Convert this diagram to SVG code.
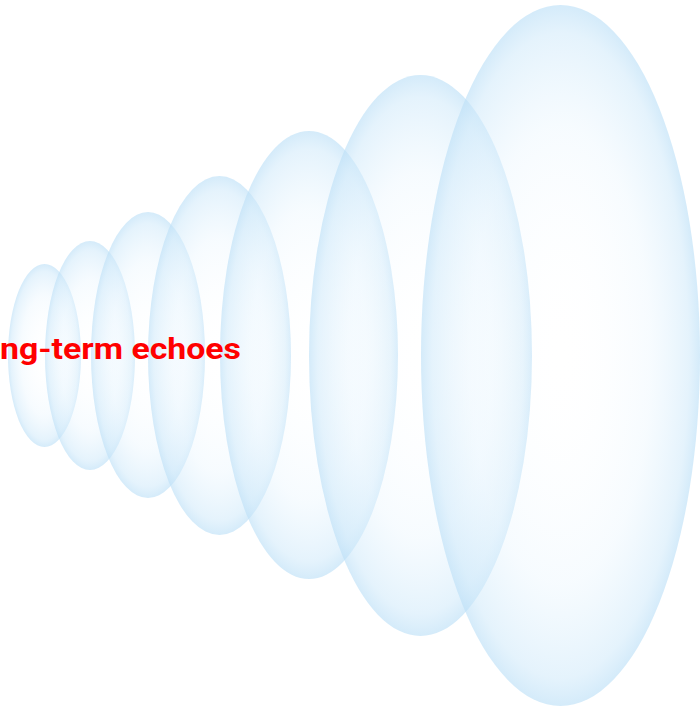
<svg xmlns="http://www.w3.org/2000/svg" width="700" height="709" viewBox="0 0 700 709">
<defs>
<radialGradient id="g" cx="50%" cy="50%" r="50%">
<stop offset="0%" stop-color="#ffffff" stop-opacity="0"/>
<stop offset="65%" stop-color="#eaf6fe" stop-opacity="0.4"/>
<stop offset="92%" stop-color="#cfe9fa" stop-opacity="0.55"/>
<stop offset="100%" stop-color="#bde0f7" stop-opacity="0.65"/>
</radialGradient>
<style>
.e{fill:url(#g);}
.t{font-family:Roboto,"Liberation Sans",Arial,sans-serif;font-weight:bold;font-size:30px;fill:#ff0000;}
</style>
</defs>
<rect width="700" height="709" fill="#ffffff"/>
<g id="echo1"><ellipse class="e" cx="44.5" cy="355.5" rx="36.5" ry="91.5"/></g>
<g id="echo2"><ellipse class="e" cx="90" cy="355.5" rx="45" ry="114.5"/></g>
<g id="echo3"><ellipse class="e" cx="148" cy="355" rx="57" ry="143"/></g>
<g id="echo4"><ellipse class="e" cx="219.5" cy="355.5" rx="71.5" ry="179.5"/></g>
<g id="echo5"><ellipse class="e" cx="309" cy="355" rx="89" ry="224"/></g>
<g id="echo6"><ellipse class="e" cx="420.5" cy="355.5" rx="111.5" ry="280.5"/></g>
<g id="echo7"><ellipse class="e" cx="560.5" cy="355.5" rx="139.5" ry="350.5"/></g>
<g id="label"><text class="t" x="0" y="359" textLength="241" lengthAdjust="spacingAndGlyphs">ng-term echoes</text></g>
</svg>
